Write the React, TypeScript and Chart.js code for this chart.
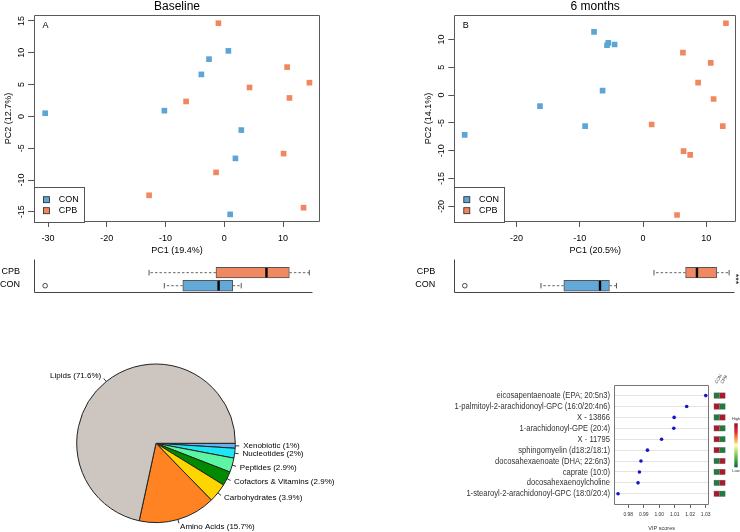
import React, { useEffect, useRef } from 'react';
import { Chart, registerables } from 'chart.js';
Chart.register(...registerables);

const SANS = '"Liberation Sans", Arial, Helvetica, sans-serif';

// ---------------- data ----------------
const groupNames = ['CON', 'CPB'];
const groupColors = ['#5ca6d6', '#f1875f'];
const boxFill = ['#62a9d7', '#f08961'];

// Panel A – Baseline PCA scores
const baseConPC1 = [-30.5, -10.2, -3.9, -2.6, 0.7, 2.9, 1.9, 1.0];
const baseConPC2 = [0.5, 0.9, 6.6, 9.0, 10.3, -2.15, -6.6, -15.4];
const baseCpbPC1 = [-1.0, 10.7, 14.5, 4.3, 11.1, -6.5, 10.1, -1.4, -12.8, 13.5];
const baseCpbPC2 = [14.65, 7.75, 5.3, 4.55, 2.9, 2.35, -5.85, -8.8, -12.4, -14.35];
const baseXTicks = [-30, -20, -10, 0, 10];
const baseYTicks = [-15, -10, -5, 0, 5, 10, 15];

// Panel B – 6 months PCA scores
const m6ConPC1 = [-28.2, -16.3, -9.16, -6.4, -7.75, -5.5, -5.7, -4.5];
const m6ConPC2 = [-7.15, -1.98, -5.58, 0.79, 11.35, 9.37, 8.95, 9.08];
const m6CpbPC1 = [13.1, 6.3, 10.7, 8.7, 11.15, 1.36, 12.6, 6.4, 7.45, 5.37];
const m6CpbPC2 = [12.9, 7.63, 5.77, 2.22, -0.7, -5.28, -5.58, -10.08, -10.74, -21.55];
const m6XTicks = [-20, -10, 0, 10];
const m6YTicks = [-20, -15, -10, -5, 0, 5, 10];

// Pie – metabolite classes
const pieLabels = ['Xenobiotic', 'Nucleotides', 'Peptides', 'Cofactors & Vitamins', 'Carbohydrates', 'Amino Acids', 'Lipids'];
const piePct = [1, 2, 2.9, 2.9, 3.9, 15.7, 71.6];
const pieColors = ['#63b0f5', '#1ee6f5', '#5cf5a2', '#008a00', '#ffd500', '#ff8223', '#cdc5bf'];

// VIP scores
const vipNames = [
  'eicosapentaenoate (EPA; 20:5n3)',
  '1-palmitoyl-2-arachidonoyl-GPC (16:0/20:4n6)',
  'X - 13866',
  '1-arachidonoyl-GPE (20:4)',
  'X - 11795',
  'sphingomyelin (d18:2/18:1)',
  'docosahexaenoate (DHA; 22:6n3)',
  'caprate (10:0)',
  'docosahexaenoylcholine',
  '1-stearoyl-2-arachidonoyl-GPC (18:0/20:4)',
];
const vipScores = [1.030, 1.0177, 1.0096, 1.0094, 1.0015, 0.9924, 0.9882, 0.9872, 0.9863, 0.9734];
const vipHighGroup = ['CPB', 'CON', 'CPB', 'CON', 'CON', 'CON', 'CPB', 'CPB', 'CPB', 'CON'];
const vipTicks = [0.98, 0.99, 1.0, 1.01, 1.02, 1.03];

// ---------------- helpers ----------------
function fivenum(v: number[]) {
  const s = [...v].sort((a, b) => a - b);
  const n = s.length;
  const n4 = Math.floor((n + 3) / 2) / 2;
  const d = [1, n4, (n + 1) / 2, n + 1 - n4, n];
  return d.map((i) => 0.5 * (s[Math.floor(i) - 1] + s[Math.ceil(i) - 1]));
}
function boxStats(v: number[]) {
  const [, q1, med, q3] = fivenum(v);
  const iqr = q3 - q1;
  const lo = q1 - 1.5 * iqr, hi = q3 + 1.5 * iqr;
  const inside = v.filter((x) => x >= lo && x <= hi);
  return { q1, med, q3, wlo: Math.min(...inside), whi: Math.max(...inside), out: v.filter((x) => x < lo || x > hi) };
}

type Num = number | ((ca: any) => number);
type TextItem = { text: string; x: Num; y: Num; font: string; color?: string; align?: CanvasTextAlign; baseline?: CanvasTextBaseline; rot?: number };
const rv = (v: Num, ca: any) => (typeof v === 'function' ? v(ca) : v);
const midX = (ca: any) => (ca.left + ca.right) / 2;
const midY = (ca: any) => (ca.top + ca.bottom) / 2;

function textPlugin(items: TextItem[]) {
  return {
    id: 'texts',
    afterDraw(chart: any) {
      const ctx = chart.ctx, ca = chart.chartArea;
      items.forEach((it) => {
        ctx.save();
        ctx.font = it.font;
        ctx.fillStyle = it.color || '#000';
        ctx.textAlign = it.align || 'center';
        ctx.textBaseline = it.baseline || 'middle';
        ctx.translate(rv(it.x, ca), rv(it.y, ca));
        if (it.rot) ctx.rotate((it.rot * Math.PI) / 180);
        ctx.fillText(it.text, 0, 0);
        ctx.restore();
      });
    },
  };
}

type AxisLab = { offset: number; font: string; color?: string; rot?: boolean; sx?: number; fmt?: (v: number) => string };
function tickLabelPlugin(cfg: { x?: AxisLab; y?: AxisLab }) {
  return {
    id: 'tickLabels',
    afterDraw(chart: any) {
      const ctx = chart.ctx, ca = chart.chartArea;
      ctx.save();
      if (cfg.x) {
        const s = chart.scales.x, c = cfg.x;
        ctx.font = c.font; ctx.fillStyle = c.color || '#000';
        ctx.textAlign = 'center'; ctx.textBaseline = 'middle';
        s.ticks.forEach((t: any) => ctx.fillText(c.fmt ? c.fmt(t.value) : String(t.value), s.getPixelForValue(t.value), ca.bottom + c.offset));
      }
      if (cfg.y) {
        const s = chart.scales.y, c = cfg.y;
        ctx.font = c.font; ctx.fillStyle = c.color || '#000';
        s.ticks.forEach((t: any) => {
          const py = s.getPixelForValue(t.value);
          const lab = c.fmt ? c.fmt(t.value) : String(t.value);
          ctx.save();
          ctx.translate(ca.left - c.offset, py);
          if (c.rot) {
            ctx.rotate(-Math.PI / 2);
            ctx.textAlign = 'center';
          } else {
            ctx.scale(c.sx || 1, 1);
            ctx.textAlign = 'right';
          }
          ctx.textBaseline = 'middle';
          ctx.fillText(lab, 0, 0);
          ctx.restore();
        });
      }
      ctx.restore();
    },
  };
}

function framePlugin(color: string, sides: 'all' | 'lb') {
  return {
    id: 'frame',
    afterDatasetsDraw(chart: any) {
      const ctx = chart.ctx, ca = chart.chartArea;
      const l = Math.round(ca.left) + 0.5, t = Math.round(ca.top) + 0.5;
      const r = Math.round(ca.right) - 0.5, b = Math.round(ca.bottom) - 0.5;
      ctx.save();
      ctx.strokeStyle = color; ctx.lineWidth = 1;
      ctx.beginPath();
      if (sides === 'all') {
        ctx.rect(l, t, r - l, b - t);
      } else {
        ctx.moveTo(l, t); ctx.lineTo(l, b); ctx.lineTo(r, b);
      }
      ctx.stroke();
      ctx.restore();
    },
  };
}

function scatterLegendPlugin() {
  return {
    id: 'scatterLegend',
    afterDatasetsDraw(chart: any) {
      const ctx = chart.ctx, ca = chart.chartArea;
      const w = 50, h = 35;
      const x0 = Math.round(ca.left) + 0.5, y0 = Math.round(ca.bottom - h) + 0.5;
      ctx.save();
      ctx.fillStyle = '#fff'; ctx.fillRect(x0, y0, w, h);
      ctx.strokeStyle = '#555'; ctx.lineWidth = 1; ctx.strokeRect(x0, y0, w, h);
      chart.data.datasets.forEach((ds: any, i: number) => {
        const cy = ca.bottom - 22.3 + i * 11;
        ctx.fillStyle = ds.backgroundColor;
        ctx.fillRect(ca.left + 9.5, cy - 3, 6, 6);
        ctx.strokeStyle = '#222'; ctx.lineWidth = 0.8;
        ctx.strokeRect(ca.left + 9.5, cy - 3, 6, 6);
        ctx.fillStyle = '#000'; ctx.font = `9px ${SANS}`;
        ctx.textAlign = 'left'; ctx.textBaseline = 'middle';
        ctx.fillText(ds.label, ca.left + 24.7, cy);
      });
      ctx.restore();
    },
  };
}

type PanelSpec = {
  title: string; tag: string; xTitle: string; yTitle: string;
  conX: number[]; conY: number[]; cpbX: number[]; cpbY: number[];
  xTicks: number[]; yTicks: number[];
  xMin: number; xMax: number; yMin: number; yMax: number;
  yW: number; padRight: number; yTitleX: number;
};

function scatterConfig(p: PanelSpec): any {
  return {
    type: 'scatter',
    data: {
      datasets: [
        { label: groupNames[0], data: p.conX.map((x, i) => ({ x, y: p.conY[i] })), backgroundColor: groupColors[0], pointStyle: 'rect', pointRadius: 4, pointBorderWidth: 0 },
        { label: groupNames[1], data: p.cpbX.map((x, i) => ({ x, y: p.cpbY[i] })), backgroundColor: groupColors[1], pointStyle: 'rect', pointRadius: 4, pointBorderWidth: 0 },
      ],
    },
    options: {
      responsive: false, animation: false,
      layout: { padding: { top: 15, right: p.padRight, left: 0, bottom: 0 } },
      plugins: { legend: { display: false }, tooltip: { enabled: false } },
      scales: {
        x: {
          type: 'linear', min: p.xMin, max: p.xMax,
          afterBuildTicks: (s: any) => { s.ticks = p.xTicks.map((v) => ({ value: v })); },
          afterFit: (s: any) => { s.height = 36; },
          ticks: { display: false },
          grid: { display: true, drawOnChartArea: false, drawTicks: true, tickLength: 5, color: '#555' },
          border: { display: false },
        },
        y: {
          type: 'linear', min: p.yMin, max: p.yMax,
          afterBuildTicks: (s: any) => { s.ticks = p.yTicks.map((v) => ({ value: v })); },
          afterFit: (s: any) => { s.width = p.yW; },
          ticks: { display: false },
          grid: { display: true, drawOnChartArea: false, drawTicks: true, tickLength: 6, color: '#555' },
          border: { display: false },
        },
      },
    },
    plugins: [
      framePlugin('#5a5a5a', 'all'),
      scatterLegendPlugin(),
      tickLabelPlugin({ x: { offset: 16.3, font: `9px ${SANS}` }, y: { offset: 12.8, font: `9px ${SANS}`, rot: true } }),
      textPlugin([
        { text: p.title, x: midX, y: 7, font: `12px ${SANS}` },
        { text: p.tag, x: (ca) => ca.left + 11.5, y: (ca) => ca.top + 11, font: `9px ${SANS}` },
        { text: p.xTitle, x: midX, y: (ca) => ca.bottom + 28.7, font: `9px ${SANS}` },
        { text: p.yTitle, x: p.yTitleX, y: midY, font: `9px ${SANS}`, rot: -90 },
      ]),
    ],
  };
}

type BoxSpec = { conX: number[]; cpbX: number[]; xMin: number; xMax: number; yW: number; padRight: number; labOffset: number; extra?: TextItem[] };

function boxConfig(p: BoxSpec): any {
  const rows = [
    { pos: 2, name: groupNames[1], st: boxStats(p.cpbX), color: boxFill[1] },
    { pos: 1, name: groupNames[0], st: boxStats(p.conX), color: boxFill[0] },
  ];
  const half = 5.35;
  const extras = {
    id: 'boxExtras',
    afterDatasetsDraw(chart: any) {
      const ctx = chart.ctx, xs = chart.scales.x, ys = chart.scales.y, ca = chart.chartArea;
      ctx.save();
      rows.forEach((r) => {
        const y = ys.getPixelForValue(r.pos);
        const px = (v: number) => xs.getPixelForValue(v);
        ctx.strokeStyle = '#666'; ctx.lineWidth = 1; ctx.setLineDash([2.5, 2]);
        ctx.beginPath();
        ctx.moveTo(px(r.st.q1), y); ctx.lineTo(px(r.st.wlo), y);
        ctx.moveTo(px(r.st.q3), y); ctx.lineTo(px(r.st.whi), y);
        ctx.stroke();
        ctx.setLineDash([]);
        ctx.strokeStyle = '#555';
        ctx.beginPath();
        ctx.moveTo(px(r.st.wlo), y - 2.7); ctx.lineTo(px(r.st.wlo), y + 2.7);
        ctx.moveTo(px(r.st.whi), y - 2.7); ctx.lineTo(px(r.st.whi), y + 2.7);
        ctx.stroke();
        ctx.strokeStyle = '#000'; ctx.lineWidth = 2.4;
        ctx.beginPath();
        ctx.moveTo(px(r.st.med), y - half + 0.5); ctx.lineTo(px(r.st.med), y + half - 0.5);
        ctx.stroke();
        ctx.strokeStyle = '#333'; ctx.lineWidth = 0.9;
        r.st.out.forEach((o) => { ctx.beginPath(); ctx.arc(px(o), y, 2.3, 0, Math.PI * 2); ctx.stroke(); });
        ctx.fillStyle = '#000'; ctx.font = `9px ${SANS}`; ctx.textAlign = 'right'; ctx.textBaseline = 'middle';
        ctx.fillText(r.name, ca.left - p.labOffset, y - 1);
      });
      ctx.restore();
    },
  };
  return {
    type: 'bar',
    data: {
      datasets: [{
        data: rows.map((r) => ({ x: [r.st.q1, r.st.q3], y: r.pos })),
        backgroundColor: rows.map((r) => r.color),
        borderColor: '#555', borderWidth: 1, borderSkipped: false, barThickness: 10.7,
      }],
    },
    options: {
      indexAxis: 'y', responsive: false, animation: false,
      layout: { padding: { top: 3, right: p.padRight, left: 0, bottom: 0 } },
      plugins: { legend: { display: false }, tooltip: { enabled: false } },
      scales: {
        x: {
          type: 'linear', min: p.xMin, max: p.xMax, offset: false,
          ticks: { display: false }, grid: { display: false }, border: { display: false },
          afterFit: (s: any) => { s.height = 7; },
        },
        y: {
          type: 'linear', min: 0.44, max: 3.05, offset: false,
          ticks: { display: false }, grid: { display: false, offset: false }, border: { display: false },
          afterFit: (s: any) => { s.width = p.yW; },
        },
      },
    },
    plugins: [framePlugin('#444', 'lb'), extras, textPlugin(p.extra || [])],
  };
}

function pieConfig(): any {
  const labelPlugin = {
    id: 'pieLabels',
    afterDatasetsDraw(chart: any) {
      const ctx = chart.ctx;
      const meta = chart.getDatasetMeta(0);
      ctx.save();
      ctx.font = `8px ${SANS}`; ctx.fillStyle = '#000'; ctx.strokeStyle = '#000'; ctx.lineWidth = 0.8;
      meta.data.forEach((arc: any, i: number) => {
        const { x, y, startAngle, endAngle, outerRadius } = arc.getProps(['x', 'y', 'startAngle', 'endAngle', 'outerRadius'], true);
        const mid = (startAngle + endAngle) / 2;
        const c = Math.cos(mid), s = Math.sin(mid);
        ctx.beginPath();
        ctx.moveTo(x + c * outerRadius, y + s * outerRadius);
        ctx.lineTo(x + c * outerRadius * 1.05, y + s * outerRadius * 1.05);
        ctx.stroke();
        ctx.textAlign = c >= 0 ? 'left' : 'right'; ctx.textBaseline = 'middle';
        ctx.fillText(`${pieLabels[i]} (${piePct[i]}%)`, x + c * outerRadius * 1.1, y + s * outerRadius * 1.1);
      });
      ctx.restore();
    },
  };
  return {
    type: 'pie',
    data: { labels: pieLabels, datasets: [{ data: piePct, backgroundColor: pieColors, borderColor: '#222', borderWidth: 1 }] },
    options: {
      responsive: false, animation: false, rotation: 90,
      layout: { padding: { left: 76.2, top: 23.5, right: 134.2, bottom: 8.9 } },
      plugins: { legend: { display: false }, tooltip: { enabled: false } },
    },
    plugins: [labelPlugin],
  };
}

function vipConfig(): any {
  const heat = {
    id: 'heat',
    afterDraw(chart: any) {
      const ctx = chart.ctx, ys = chart.scales.y, ca = chart.chartArea;
      ctx.save();
      const cols = [ca.right + 4.7, ca.right + 10.4];
      vipHighGroup.forEach((g, i) => {
        const y = ys.getPixelForValue(i);
        groupNames.forEach((gn, j) => {
          ctx.fillStyle = gn === g ? '#b0172c' : '#1e7d3a';
          ctx.fillRect(cols[j], y - 2.7, 5.4, 5.4);
          ctx.strokeStyle = '#666'; ctx.lineWidth = 0.4;
          ctx.strokeRect(cols[j], y - 2.7, 5.4, 5.4);
        });
      });
      ctx.font = `4.5px ${SANS}`; ctx.fillStyle = '#444'; ctx.textAlign = 'left'; ctx.textBaseline = 'middle';
      groupNames.forEach((gn, j) => {
        ctx.save();
        ctx.translate(cols[j] + 2, ca.top - 1.5);
        ctx.rotate(-Math.PI / 3);
        ctx.fillText(gn, 0, 0);
        ctx.restore();
      });
      const kx = ca.right + 25, ky0 = ca.top + 38.3, ky1 = ca.top + 82.3;
      const g = ctx.createLinearGradient(0, ky0, 0, ky1);
      g.addColorStop(0, '#a50026');
      g.addColorStop(0.2, '#e0302a');
      g.addColorStop(0.4, '#fdae61');
      g.addColorStop(0.5, '#ffffbf');
      g.addColorStop(0.65, '#a6d96a');
      g.addColorStop(0.85, '#3aa046');
      g.addColorStop(1, '#006837');
      ctx.fillStyle = g;
      ctx.fillRect(kx, ky0, 3.4, ky1 - ky0);
      ctx.font = `4px ${SANS}`; ctx.fillStyle = '#333'; ctx.textAlign = 'center';
      ctx.fillText('High', kx + 1.7, ky0 - 4);
      ctx.fillText('Low', kx + 1.7, ky1 + 3.4);
      ctx.restore();
    },
  };
  return {
    type: 'scatter',
    data: { datasets: [{ label: 'VIP', data: vipScores.map((v, i) => ({ x: v, y: i })), backgroundColor: '#1414cc', pointRadius: 1.8, pointBorderWidth: 0 }] },
    options: {
      responsive: false, animation: false,
      layout: { padding: { top: 15, right: 30.7, left: 0, bottom: 0 } },
      plugins: { legend: { display: false }, tooltip: { enabled: false } },
      scales: {
        x: {
          type: 'linear', min: 0.9708, max: 1.0323,
          afterBuildTicks: (s: any) => { s.ticks = vipTicks.map((v) => ({ value: v })); },
          afterFit: (s: any) => { s.height = 27; },
          ticks: { display: false },
          grid: { display: true, drawOnChartArea: false, drawTicks: true, tickLength: 3, color: '#666' },
          border: { display: false },
        },
        y: {
          type: 'linear', min: -0.97, max: 10.03, reverse: true,
          afterBuildTicks: (s: any) => { s.ticks = vipNames.map((_, i) => ({ value: i })); },
          afterFit: (s: any) => { s.width = 194; },
          ticks: { display: false },
          grid: { display: true, drawOnChartArea: true, drawTicks: false, color: '#e4e4e4' },
          border: { display: false },
        },
      },
    },
    plugins: [
      framePlugin('#777', 'all'),
      heat,
      tickLabelPlugin({
        x: { offset: 9.3, font: `5px ${SANS}`, color: '#333', fmt: (v) => v.toFixed(2) },
        y: { offset: 4, font: `9.5px ${SANS}`, color: '#333', sx: 0.8, fmt: (v) => vipNames[v] },
      }),
      textPlugin([{ text: 'VIP scores', x: midX, y: (ca) => ca.bottom + 23.3, font: `5.5px ${SANS}`, color: '#333' }]),
    ],
  };
}

function ChartBox({ left, top, width, height, make }: { left: number; top: number; width: number; height: number; make: () => any }) {
  const ref = useRef<HTMLCanvasElement>(null);
  useEffect(() => {
    const chart = new Chart(ref.current as HTMLCanvasElement, make());
    return () => chart.destroy();
  }, []);
  return (
    <div style={{ position: 'absolute', left, top, width, height }}>
      <canvas ref={ref} width={width} height={height} style={{ width, height, display: 'block' }} />
    </div>
  );
}

const panelA: PanelSpec = {
  title: 'Baseline', tag: 'A', xTitle: 'PC1 (19.4%)', yTitle: 'PC2 (12.7%)',
  conX: baseConPC1, conY: baseConPC2, cpbX: baseCpbPC1, cpbY: baseCpbPC2,
  xTicks: baseXTicks, yTicks: baseYTicks,
  xMin: -32.4, xMax: 16.3, yMin: -16.6, yMax: 15.94, yW: 34, padRight: 10, yTitleX: 8.3,
};
const panelB: PanelSpec = {
  title: '6 months', tag: 'B', xTitle: 'PC1 (20.5%)', yTitle: 'PC2 (14.1%)',
  conX: m6ConPC1, conY: m6ConPC2, cpbX: m6CpbPC1, cpbY: m6CpbPC2,
  xTicks: m6XTicks, yTicks: m6YTicks,
  xMin: -29.84, xMax: 14.69, yMin: -22.8, yMax: 14.38, yW: 84.3, padRight: 0.7, yTitleX: 58.3,
};
const boxA: BoxSpec = { conX: baseConPC1, cpbX: baseCpbPC1, xMin: -32.4, xMax: 15.13, yW: 34, padRight: 17, labOffset: 14 };
const boxB: BoxSpec = {
  conX: m6ConPC1, cpbX: m6CpbPC1, xMin: -29.84, xMax: 14.02, yW: 84.3, padRight: 5, labOffset: 19,
  extra: [{ text: '***', x: 365, y: 23, font: `9px ${SANS}`, rot: 90 }],
};

export default function App() {
  return (
    <div style={{ position: 'absolute', left: 0, top: 0, width: 740, height: 532, background: '#fff', overflow: 'hidden' }}>
      <ChartBox left={0} top={0} width={330} height={258} make={() => scatterConfig(panelA)} />
      <ChartBox left={370} top={0} width={370} height={258} make={() => scatterConfig(panelB)} />
      <ChartBox left={0} top={256} width={330} height={44} make={() => boxConfig(boxA)} />
      <ChartBox left={370} top={256} width={370} height={44} make={() => boxConfig(boxB)} />
      <ChartBox left={0} top={340} width={370} height={192} make={pieConfig} />
      <ChartBox left={420} top={370} width={320} height={162} make={vipConfig} />
    </div>
  );
}
